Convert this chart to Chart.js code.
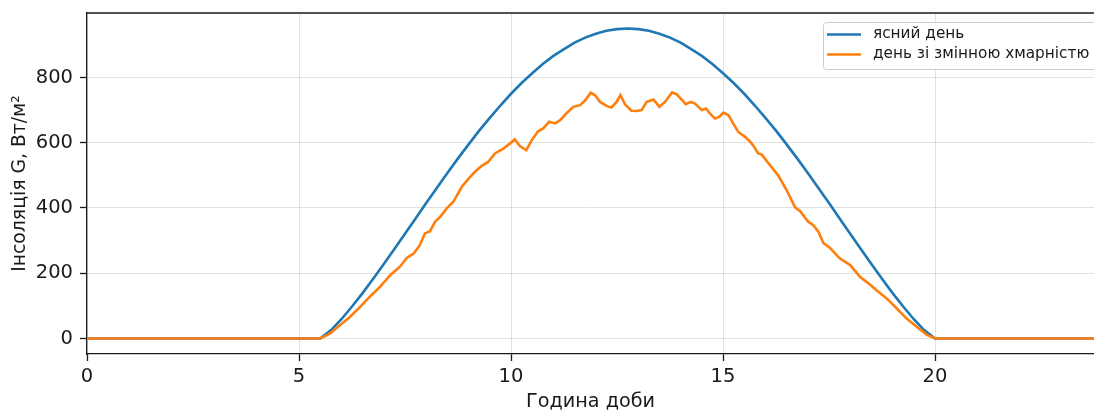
<!DOCTYPE html>
<html><head><meta charset="utf-8">
<script src="https://cdn.jsdelivr.net/npm/chart.js@4.4.1/dist/chart.umd.min.js"></script>
<style>html,body{margin:0;padding:0;background:#fff}#wrap{width:1094px;height:414px}</style>
</head><body><div id="wrap"><canvas id="c" width="1094" height="414"></canvas></div>
<script>
const seriesNames = ['ясний день', 'день зі змінною хмарністю'];
const xTickLabels = [0, 5, 10, 15, 20];
const yTickLabels = [0, 200, 400, 600, 800];

const clearHours = [0, 5.5, 5.75, 6, 6.25, 6.5, 6.75, 7, 7.25, 7.5, 7.75, 8, 8.25, 8.5, 8.75, 9, 9.25, 9.5, 9.75, 10, 10.25, 10.5, 10.75, 11, 11.25, 11.5, 11.75, 12, 12.25, 12.5, 12.75, 13, 13.25, 13.5, 13.75, 14, 14.25, 14.5, 14.75, 15, 15.25, 15.5, 15.75, 16, 16.25, 16.5, 16.75, 17, 17.25, 17.5, 17.75, 18, 18.25, 18.5, 18.75, 19, 19.25, 19.5, 19.75, 20, 24];
const clearValues = [0, 0, 25, 59, 98, 139, 183, 228, 274, 321, 368, 415, 461, 507, 552, 595, 637, 676, 714, 750, 783, 813, 841, 866, 887, 907, 922, 934, 943, 948, 950, 948, 943, 934, 922, 907, 887, 866, 841, 813, 783, 750, 714, 676, 637, 595, 552, 507, 461, 415, 368, 321, 274, 228, 183, 139, 98, 59, 25, 0, 0];

const cloudyHours = [0, 5.5, 5.73, 5.97, 6.2, 6.44, 6.67, 6.91, 7.15, 7.38, 7.54, 7.7, 7.85, 7.97, 8.09, 8.21, 8.33, 8.48, 8.64, 8.84, 9.0, 9.15, 9.31, 9.46, 9.62, 9.82, 9.98, 10.09, 10.21, 10.36, 10.49, 10.64, 10.76, 10.9, 11.04, 11.16, 11.32, 11.47, 11.63, 11.75, 11.88, 11.98, 12.1, 12.26, 12.37, 12.49, 12.58, 12.69, 12.84, 12.96, 13.08, 13.2, 13.36, 13.5, 13.63, 13.8, 13.91, 14.02, 14.12, 14.24, 14.34, 14.5, 14.6, 14.69, 14.81, 14.91, 15.01, 15.13, 15.24, 15.36, 15.52, 15.64, 15.71, 15.83, 15.91, 16.11, 16.3, 16.5, 16.7, 16.82, 17.01, 17.13, 17.25, 17.37, 17.52, 17.76, 18.0, 18.23, 18.43, 18.62, 18.86, 19.1, 19.33, 19.57, 19.8, 20.0, 24];
const cloudyValues = [0, 0, 15, 41, 66, 97, 128, 158, 194, 220, 247, 260, 286, 322, 329, 358, 373, 398, 419, 465, 490, 511, 529, 541, 567, 582, 598, 610, 590, 577, 608, 635, 644, 664, 659, 669, 692, 710, 715, 730, 753, 746, 725, 712, 708, 725, 746, 717, 698, 697, 700, 725, 732, 710, 725, 754, 748, 733, 718, 725, 720, 700, 705, 690, 674, 679, 692, 684, 659, 633, 618, 603, 592, 567, 564, 531, 500, 455, 402, 390, 358, 347, 327, 292, 278, 245, 225, 189, 169, 148, 123, 92, 61, 36, 12, 0, 0];

const FONT = 'DejaVu Sans';
const TXT = '#1a1a1a';
const GRID = 'rgba(176,176,176,0.38)';

const topSpine = {
  id: 'topSpine',
  afterDatasetsDraw(chart) {
    const {ctx, chartArea: a} = chart;
    ctx.save();
    ctx.strokeStyle = TXT; ctx.lineWidth = 1.3;
    ctx.beginPath(); ctx.moveTo(a.left, a.top); ctx.lineTo(a.right, a.top); ctx.stroke();
    ctx.restore();
  }
};

const boxLegend = {
  id: 'boxLegend',
  afterDraw(chart) {
    const ctx = chart.ctx;
    ctx.save();
    const bx = 823, by = 22, bw = 290, bh = 47;
    ctx.fillStyle = 'rgba(255,255,255,0.8)';
    ctx.strokeStyle = '#cccccc'; ctx.lineWidth = 1;
    ctx.beginPath(); ctx.roundRect(bx + 0.5, by + 0.5, bw, bh, 3); ctx.fill(); ctx.stroke();
    ctx.font = '15.3px "' + FONT + '"';
    ctx.textBaseline = 'middle';
    chart.data.datasets.forEach((ds, i) => {
      const y = by + 12.5 + i * 20;
      ctx.strokeStyle = ds.borderColor; ctx.lineWidth = 2.5;
      ctx.beginPath(); ctx.moveTo(827, y); ctx.lineTo(861, y); ctx.stroke();
      ctx.fillStyle = TXT;
      ctx.fillText(ds.label, 873, y);
    });
    ctx.restore();
  }
};

new Chart(document.getElementById('c'), {
  type: 'line',
  data: {
    datasets: [
      { label: seriesNames[0], data: clearHours.map((h, i) => ({x: h, y: clearValues[i]})),
        borderColor: '#1f77b4', borderWidth: 2.6, pointRadius: 0, fill: false, order: 1 },
      { label: seriesNames[1], data: cloudyHours.map((h, i) => ({x: h, y: cloudyValues[i]})),
        borderColor: '#ff7f0e', borderWidth: 2.6, pointRadius: 0, fill: false, order: 0 }
    ]
  },
  options: {
    responsive: false, devicePixelRatio: 1, animation: false,
    layout: { padding: { top: 13, right: 0, left: 0, bottom: 0 } },
    plugins: { legend: { display: false }, tooltip: { enabled: false } },
    scales: {
      x: {
        type: 'linear', min: 0, max: 23.75,
        afterBuildTicks: s => { s.ticks = xTickLabels.map(v => ({value: v})); },
        afterFit: s => { s.height = 60; s.paddingLeft = 0; s.paddingRight = 0; },
        ticks: { font: { family: FONT, size: 19.5 }, color: TXT, padding: 4, maxRotation: 0, callback: v => String(v) },
        grid: { color: GRID, lineWidth: 1, drawTicks: true, tickLength: 7, tickColor: TXT, tickWidth: 1.3 },
        border: { display: true, color: TXT, width: 1.3 },
        title: { display: true, text: 'Година доби', font: { family: FONT, size: 19.2 }, color: TXT, padding: { top: 0, bottom: 0 } }
      },
      y: {
        type: 'linear', min: -47.5, max: 997.5,
        afterBuildTicks: s => { s.ticks = yTickLabels.map(v => ({value: v})); },
        afterFit: s => { s.width = 87; s.paddingTop = 0; s.paddingBottom = 0; },
        ticks: { font: { family: FONT, size: 19.5 }, color: TXT, padding: 7, callback: v => String(v) },
        grid: { color: GRID, lineWidth: 1, drawTicks: true, tickLength: 7, tickColor: TXT, tickWidth: 1.3 },
        border: { display: true, color: TXT, width: 1.3 },
        title: { display: true, text: 'Інсоляція G, Вт/м²', font: { family: FONT, size: 18.8 }, color: TXT, padding: { top: 9, bottom: 0 } }
      }
    }
  },
  plugins: [topSpine, boxLegend]
});
</script></body></html>
